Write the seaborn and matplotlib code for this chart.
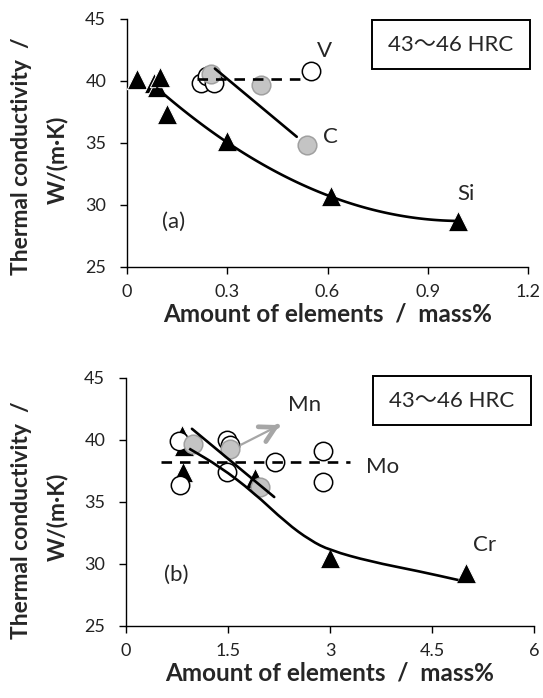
import numpy as np
import matplotlib
matplotlib.use("Agg")
import matplotlib.pyplot as plt
from matplotlib.patches import Rectangle, PathPatch
from matplotlib.path import Path
import seaborn as sns

# (a) Si, C, V
si_x = [0.03, 0.08, 0.09, 0.10, 0.12, 0.30, 0.61, 0.99]
si_y = [40.2, 39.8, 39.5, 40.35, 37.3, 35.2, 30.7, 28.7]
c_x = [0.25, 0.40, 0.54]
c_y = [40.6, 39.7, 34.8]
v_x = [0.22, 0.24, 0.26, 0.55]
v_y = [39.8, 40.4, 39.8, 40.8]
si_fit_range = [0.09, 0.99]
c_line_x = [0.263, 0.508]
c_line_y = [41.0, 35.5]
v_level = 40.2
v_range = [0.21, 0.53]

# (b) Cr, Mn, Mo
cr_x = [0.82, 0.86, 0.84, 1.90, 3.00, 5.00]
cr_y = [40.4, 39.5, 37.4, 36.9, 30.5, 29.25]
mn_x = [0.99, 1.53, 1.97]
mn_y = [39.7, 39.3, 36.2]
mo_x = [0.78, 0.79, 1.48, 1.53, 1.48, 2.19, 2.90, 2.90]
mo_y = [39.9, 36.4, 40.0, 39.6, 37.4, 38.25, 39.1, 36.6]
# hand-drawn Cr guide curve
cr_guide_x = [0.93, 1.38, 1.87, 2.36, 2.71, 3.00, 3.59, 4.32, 4.89]
cr_guide_y = [39.3, 37.85, 35.8, 33.3, 31.9, 31.1, 30.2, 29.4, 28.7]
mn_line_x = [0.97, 2.18]
mn_line_y = [40.9, 35.4]
mo_level = 38.2
mo_range = [0.52, 3.3]
mn_arrow = [(1.65, 39.5), (2.26, 41.2)]

sns.set_theme(style="ticks")
plt.rcParams["font.family"] = ["Lato", "Noto Sans CJK JP", "DejaVu Sans"]

fig = plt.figure(figsize=(5.43, 6.98), dpi=100)
ax1 = fig.add_axes([0.2339, 0.6175, 0.7385, 0.3553])
ax2 = fig.add_axes([0.2320, 0.1032, 0.7514, 0.3553])

tri = dict(marker="^", color="black", s=215, edgecolor="white", linewidth=0.7, zorder=3)
opn = dict(marker="o", color="white", s=175, edgecolor="black", linewidth=1.1, zorder=4)
gry = dict(marker="o", color="#c4c4c4", s=180, edgecolor="#a0a0a0", linewidth=1.1, zorder=5)
lw = 1.9
fs = 16


def smooth_guide(ax, gx, gy):
    # quadratic bezier through the midpoints of the read-off guide points
    pts = list(zip(gx, gy))
    verts = [pts[0], ((pts[0][0] + pts[1][0]) / 2, (pts[0][1] + pts[1][1]) / 2)]
    codes = [Path.MOVETO, Path.LINETO]
    for i in range(1, len(pts) - 1):
        mid = ((pts[i][0] + pts[i + 1][0]) / 2, (pts[i][1] + pts[i + 1][1]) / 2)
        verts += [pts[i], mid]
        codes += [Path.CURVE3, Path.CURVE3]
    verts.append(pts[-1])
    codes.append(Path.LINETO)
    ax.add_patch(PathPatch(Path(verts, codes), fc="none", ec="black", lw=lw, zorder=6))


# --- panel (a)
sns.scatterplot(x=si_x, y=si_y, ax=ax1, **tri)
sns.scatterplot(x=v_x, y=v_y, ax=ax1, **opn)
sns.scatterplot(x=c_x, y=c_y, ax=ax1, **gry)
coef = np.polyfit(si_x[2:], si_y[2:], 2)
xs = np.linspace(si_fit_range[0], si_fit_range[1], 100)
ax1.plot(xs, np.polyval(coef, xs), color="black", lw=lw, zorder=6)
ax1.plot(c_line_x, c_line_y, color="black", lw=lw, zorder=6)
ax1.plot(v_range, [v_level, v_level], color="black", lw=lw, ls=(0, (4, 3)), zorder=6)
ax1.set_xlim(0, 1.2)
ax1.set_xticks([0, 0.3, 0.6, 0.9, 1.2])
ax1.set_xticklabels(["0", "0.3", "0.6", "0.9", "1.2"])
ax1.text(0.59, 42.4, "V", fontsize=fs, ha="center", va="center")
ax1.text(0.61, 35.5, "C", fontsize=fs, ha="center", va="center")
ax1.text(1.015, 30.9, "Si", fontsize=fs, ha="center", va="center")
ax1.text(0.138, 28.6, "(a)", fontsize=fs, ha="center", va="center")

# --- panel (b)
sns.scatterplot(x=cr_x, y=cr_y, ax=ax2, **tri)
sns.scatterplot(x=mo_x, y=mo_y, ax=ax2, **opn)
sns.scatterplot(x=mn_x, y=mn_y, ax=ax2, **gry)
smooth_guide(ax2, cr_guide_x, cr_guide_y)
ax2.plot(mn_line_x, mn_line_y, color="black", lw=lw, zorder=6)
ax2.plot(mo_range, [mo_level, mo_level], color="black", lw=lw, ls=(0, (4, 3)), zorder=6)
ax2.annotate("", xy=mn_arrow[1], xytext=mn_arrow[0],
             arrowprops=dict(arrowstyle="-", color="#a6a6a6", lw=1.6), zorder=7)
ax2.annotate("", xy=mn_arrow[1], xytext=(mn_arrow[1][0] - 0.03, mn_arrow[1][1] - 0.085),
             arrowprops=dict(arrowstyle="->,head_length=0.9,head_width=0.5",
                             color="#a6a6a6", lw=3.4), zorder=7)
ax2.set_xlim(0, 6)
ax2.set_xticks([0, 1.5, 3, 4.5, 6])
ax2.set_xticklabels(["0", "1.5", "3", "4.5", "6"])
ax2.text(2.63, 42.8, "Mn", fontsize=fs, ha="center", va="center")
ax2.text(3.77, 37.85, "Mo", fontsize=fs, ha="center", va="center")
ax2.text(5.28, 31.5, "Cr", fontsize=fs, ha="center", va="center")
ax2.text(0.74, 29.1, "(b)", fontsize=fs, ha="center", va="center")

boxes = {ax1: (0.611, 0.798, 0.394, 0.198, 0.808, 0.897),
         ax2: (0.605, 0.810, 0.387, 0.198, 0.798, 0.909)}

for ax in (ax1, ax2):
    ax.set_ylim(25, 45)
    ax.set_yticks([25, 30, 35, 40, 45])
    sns.despine(ax=ax)
    for s in ("left", "bottom"):
        ax.spines[s].set_color("black")
        ax.spines[s].set_linewidth(1.0)
    ax.tick_params(axis="both", direction="out", length=5, width=1.0,
                   color="black", labelsize=13, labelcolor="#222222")
    ax.tick_params(axis="y", pad=10)
    ax.tick_params(axis="x", pad=7)
    ax.set_xlabel("Amount of elements  /  mass%", fontsize=17.5,
                  fontweight="bold", labelpad=2)
    ax.set_ylabel("")
    bx, by, bw, bh, tx, ty = boxes[ax]
    ax.add_patch(Rectangle((bx, by), bw, bh, transform=ax.transAxes, fc="white",
                           ec="black", lw=1.4, clip_on=False, zorder=8))
    ax.text(tx, ty, "43\u301c46 HRC", transform=ax.transAxes, fontsize=fs,
            ha="center", va="center", zorder=9)

for yc1, yc2 in ((156, 160), (520, 517)):
    fig.text(0.040, 1 - yc1 / 698, "Thermal conductivity  /", rotation=90,
             fontsize=16.5, fontweight="bold", ha="center", va="center")
    fig.text(0.106, 1 - yc2 / 698, "W/(m\u00b7K)", rotation=90,
             fontsize=16.5, fontweight="bold", ha="center", va="center")

fig.savefig("out.png", dpi=100, facecolor="white")
